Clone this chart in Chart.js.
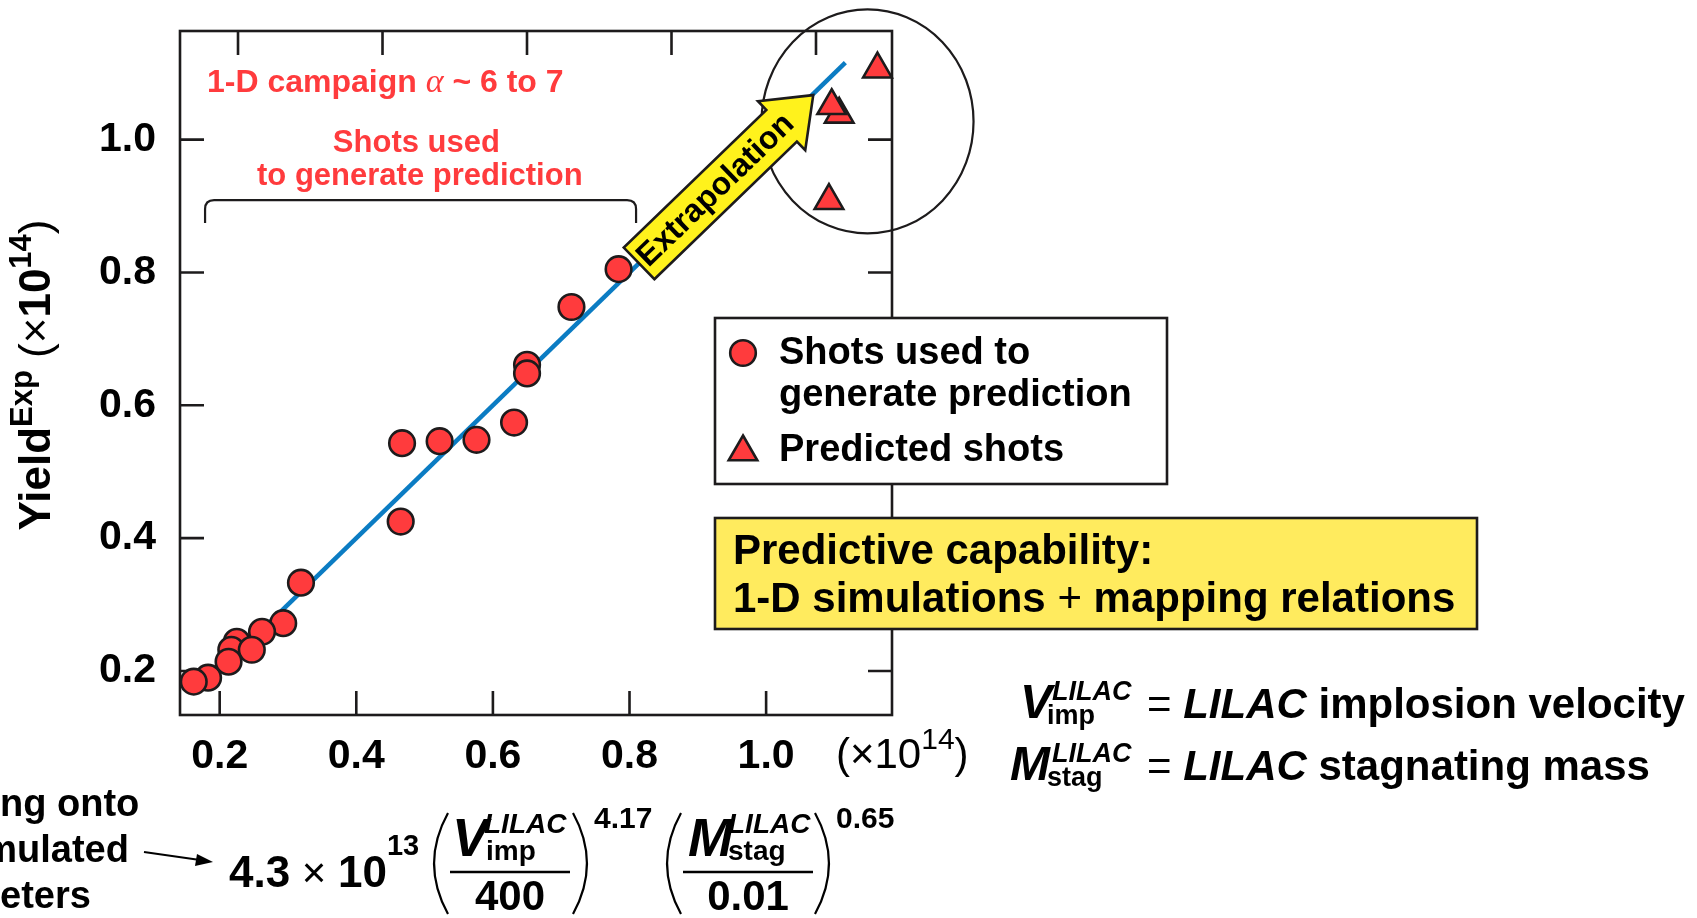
<!DOCTYPE html>
<html>
<head>
<meta charset="utf-8">
<title>1-D campaign yield prediction</title>
<script src="https://cdn.jsdelivr.net/npm/chart.js@4.4.1/dist/chart.umd.min.js"></script>
<style>
  html, body { margin: 0; padding: 0; background: #ffffff; }
  #c { display: block; }
</style>
</head>
<body>
<canvas id="c" width="1697" height="918"></canvas>
<script>
// ---------------------------------------------------------------
// Data (all yields in units of 1e14)
// ---------------------------------------------------------------
const xTickValues = [0.2, 0.4, 0.6, 0.8, 1.0];
const xTopTickValues = [0.2, 0.4, 0.6, 0.8, 1.0];
const yTickValues = [0.2, 0.4, 0.6, 0.8, 1.0];

// Shots used to generate the prediction: mapped 1-D yield vs. experimental yield
const usedMapped   = [0.293, 0.262, 0.225, 0.217, 0.183, 0.213, 0.247, 0.162, 0.319, 0.465, 0.467, 0.522, 0.576, 0.631, 0.650, 0.650, 0.715, 0.784];
const usedMeasured = [0.272, 0.259, 0.244, 0.232, 0.190, 0.214, 0.232, 0.184, 0.333, 0.425, 0.543, 0.546, 0.548, 0.574, 0.661, 0.648, 0.748, 0.805];

// Predicted shots
const predMapped   = [1.163, 1.107, 1.096, 1.092];
const predMeasured = [1.106, 1.038, 1.051, 0.908];

// Prediction line: YieldExp = mapped yield
const fitMapped   = [0.17, 1.116];
const fitMeasured = [0.17, 1.116];

const usedLabel = 'Shots used to generate prediction';
const predLabel = 'Predicted shots';

// ---------------------------------------------------------------
// Styling
// ---------------------------------------------------------------
const FONT = "'Liberation Sans', Arial, Helvetica, sans-serif";
const SERIF = "'Liberation Serif', 'DejaVu Serif', serif";
const INK = '#1d1b1c';
const RED = '#ff3b3d';
const BLUE = '#0b7cc3';
const ARROW_YELLOW = '#fff21c';
const BOX_YELLOW = '#ffeb5e';

const pts = (xs, ys) => xs.map((x, i) => ({ x, y: ys[i] }));
const fixTicks = (values) => (scale) => { scale.ticks = values.map(v => ({ value: v })); };

function f(weight, size, style, family) {
  return (style ? style + ' ' : '') + weight + ' ' + size + 'px ' + (family || FONT);
}

// draws a run of text pieces left to right: {t, font, dy}
function run(ctx, x, y, pieces) {
  let cx = x;
  for (const p of pieces) {
    ctx.font = p.font;
    if (p.dx) cx += p.dx;
    ctx.fillText(p.t, cx, y + (p.dy || 0));
    cx += ctx.measureText(p.t).width;
  }
  return cx;
}
function runWidth(ctx, pieces) {
  let w = 0;
  for (const p of pieces) { ctx.font = p.font; w += (p.dx || 0) + ctx.measureText(p.t).width; }
  return w;
}

function bigParen(ctx, x0, x1, yTop, yBot, open) {
  const mid = (yTop + yBot) / 2;
  ctx.beginPath();
  if (open) {
    ctx.moveTo(x1, yTop);
    ctx.quadraticCurveTo(x0 - (x1 - x0) * 0.55, mid, x1, yBot);
  } else {
    ctx.moveTo(x0, yTop);
    ctx.quadraticCurveTo(x1 + (x1 - x0) * 0.55, mid, x0, yBot);
  }
  ctx.stroke();
}

// ---------------------------------------------------------------
// Plot frame with inward ticks on all four sides
// ---------------------------------------------------------------
const framePlugin = {
  id: 'frame',
  beforeDatasetsDraw(chart) {
    const { ctx, chartArea: a, scales } = chart;
    const TL = 24;
    ctx.save();
    ctx.strokeStyle = INK;
    ctx.lineWidth = 2.6;
    ctx.beginPath();
    scales.x.ticks.forEach(t => {
      const p = scales.x.getPixelForValue(t.value);
      ctx.moveTo(p, a.bottom); ctx.lineTo(p, a.bottom - TL);
    });
    scales.x2.ticks.forEach(t => {
      const p = scales.x2.getPixelForValue(t.value);
      ctx.moveTo(p, a.top); ctx.lineTo(p, a.top + TL);
    });
    scales.y.ticks.forEach(t => {
      const p = scales.y.getPixelForValue(t.value);
      ctx.moveTo(a.left, p); ctx.lineTo(a.left + TL, p);
      ctx.moveTo(a.right, p); ctx.lineTo(a.right - TL, p);
    });
    ctx.stroke();
    ctx.strokeRect(a.left, a.top, a.right - a.left, a.bottom - a.top);
    ctx.restore();
  }
};

// ---------------------------------------------------------------
// Annotations inside and around the plot
// ---------------------------------------------------------------
const annotatePlugin = {
  id: 'annotate',
  afterDatasetsDraw(chart) {
    const { ctx, scales } = chart;
    const X = v => scales.x.getPixelForValue(v);
    const Y = v => scales.y.getPixelForValue(v);
    ctx.save();

    // circle around the predicted shots
    ctx.strokeStyle = INK;
    ctx.lineWidth = 2.2;
    ctx.beginPath();
    ctx.ellipse(X(1.1485), Y(1.0273), 106, 112, 0, 0, Math.PI * 2);
    ctx.stroke();

    // extrapolation arrow along the prediction line
    const tx = X(0.814), ty = Y(0.8136);
    const hx = X(1.069), hy = Y(1.067);
    const L = Math.hypot(hx - tx, hy - ty);
    const ux = (hx - tx) / L, uy = (hy - ty) / L;
    const nx = -uy, ny = ux;
    const hw = 22, HW = 34, headLen = 44;
    const kx = tx + ux * (L - headLen), ky = ty + uy * (L - headLen);
    ctx.beginPath();
    ctx.moveTo(tx + nx * hw, ty + ny * hw);
    ctx.lineTo(kx + nx * hw, ky + ny * hw);
    ctx.lineTo(kx + nx * HW, ky + ny * HW);
    ctx.lineTo(hx, hy);
    ctx.lineTo(kx - nx * HW, ky - ny * HW);
    ctx.lineTo(kx - nx * hw, ky - ny * hw);
    ctx.lineTo(tx - nx * hw, ty - ny * hw);
    ctx.closePath();
    ctx.fillStyle = ARROW_YELLOW;
    ctx.fill();
    ctx.lineWidth = 2.6;
    ctx.lineJoin = 'miter';
    ctx.stroke();
    ctx.save();
    ctx.translate(tx + ux * 106, ty + uy * 106);
    ctx.rotate(Math.atan2(uy, ux));
    ctx.fillStyle = '#000';
    ctx.font = f('bold', 32);
    ctx.textAlign = 'center';
    ctx.textBaseline = 'middle';
    ctx.fillText('Extrapolation', 0, 1);
    ctx.restore();

    // bracket over the shots used for the fit
    const bl = X(0.1786), br = X(0.8096), bt = Y(0.909), bb = Y(0.8744), r = 9;
    ctx.beginPath();
    ctx.moveTo(bl, bb);
    ctx.lineTo(bl, bt + r);
    ctx.quadraticCurveTo(bl, bt, bl + r, bt);
    ctx.lineTo(br - r, bt);
    ctx.quadraticCurveTo(br, bt, br, bt + r);
    ctx.lineTo(br, bb);
    ctx.lineWidth = 2.2;
    ctx.strokeStyle = INK;
    ctx.stroke();

    // red labels
    ctx.fillStyle = RED;
    ctx.textBaseline = 'alphabetic';
    ctx.textAlign = 'left';
    run(ctx, X(0.1814), Y(1.0721), [
      { t: '1-D campaign ', font: f('bold', 32) },
      { t: '\u03b1', font: f('normal', 34, 'italic', SERIF) },
      { t: ' ~ 6 to 7', font: f('bold', 32) }
    ]);
    ctx.textAlign = 'center';
    ctx.font = f('bold', 31);
    ctx.fillText('Shots used', X(0.488), Y(0.9818));
    ctx.fillText('to generate prediction', X(0.493), Y(0.9316));

    // legend
    const lx = 715, ly = 318, lw = 452, lh = 166;
    ctx.fillStyle = '#fff';
    ctx.fillRect(lx, ly, lw, lh);
    ctx.strokeStyle = INK;
    ctx.lineWidth = 2.6;
    ctx.strokeRect(lx, ly, lw, lh);
    const sets = chart.data.datasets;
    const usedDs = sets.find(d => d.label === usedLabel);
    const predDs = sets.find(d => d.label === predLabel);
    const drawMarker = (ds, x, y) => {
      ctx.fillStyle = ds.backgroundColor;
      ctx.strokeStyle = ds.borderColor;
      ctx.lineWidth = ds.borderWidth;
      Chart.helpers.drawPoint(ctx, { pointStyle: ds.pointStyle, radius: ds.pointRadius, borderWidth: ds.borderWidth, rotation: 0 }, x, y);
    };
    drawMarker(usedDs, 743, 353);
    drawMarker(predDs, 743, 452);
    ctx.fillStyle = '#000';
    ctx.textAlign = 'left';
    ctx.font = f('bold', 38);
    ctx.fillText('Shots used to', 779, 364);
    ctx.fillText('generate prediction', 779, 406);
    ctx.fillText(predDs.label, 779, 461);

    // summary box
    ctx.fillStyle = BOX_YELLOW;
    ctx.fillRect(715, 518, 762, 111);
    ctx.strokeStyle = INK;
    ctx.strokeRect(715, 518, 762, 111);
    ctx.fillStyle = '#000';
    ctx.font = f('bold', 42);
    ctx.fillText('Predictive capability:', 733, 564);
    run(ctx, 733, 612, [
      { t: '1-D simulations ', font: f('bold', 42) },
      { t: '+', font: f('normal', 42) },
      { t: ' mapping relations', font: f('bold', 42) }
    ]);
    ctx.restore();
  },

  afterDraw(chart) {
    const { ctx } = chart;
    ctx.save();
    ctx.fillStyle = '#000';
    ctx.textBaseline = 'alphabetic';
    ctx.textAlign = 'left';

    // y-axis title, rotated
    const yTitle = [
      { t: 'Yield', font: f('bold', 44) },
      { t: 'Exp', font: f('bold', 31), dy: -18 },
      { t: ' (', font: f('normal', 44) },
      { t: '\u00d7', font: f('normal', 44) },
      { t: '10', font: f('bold', 44) },
      { t: '14', font: f('bold', 31), dy: -19 },
      { t: ')', font: f('normal', 44) }
    ];
    const tw = runWidth(ctx, yTitle);
    ctx.save();
    ctx.translate(50, 375 + tw / 2);
    ctx.rotate(-Math.PI / 2);
    run(ctx, 0, 0, yTitle);
    ctx.restore();

    // x-axis unit
    run(ctx, 836, 768, [
      { t: '(\u00d710', font: f('normal', 42) },
      { t: '14', font: f('normal', 30), dy: -19 },
      { t: ')', font: f('normal', 42) }
    ]);

    // mapping description running in from the left edge;
    // each word is placed so that the given tail starts at x
    ctx.font = f('bold', 38);
    const edgeWords = [
      { word: 'Mapping onto', tail: 'ng onto', x: 0, y: 816 },
      { word: 'simulated', tail: 'ulated', x: 17, y: 862 },
      { word: 'parameters', tail: 'eters', x: 0, y: 908 }
    ];
    edgeWords.forEach(w => {
      const head = ctx.measureText(w.word).width - ctx.measureText(w.tail).width;
      ctx.fillText(w.word, w.x - head, w.y);
    });

    // pointer arrow to the formula
    ctx.strokeStyle = '#000';
    ctx.lineWidth = 2.2;
    ctx.beginPath();
    ctx.moveTo(144, 852); ctx.lineTo(200, 860);
    ctx.stroke();
    ctx.beginPath();
    ctx.moveTo(213, 862); ctx.lineTo(197, 854); ctx.lineTo(195, 866); ctx.closePath();
    ctx.fill();

    // mapping formula
    run(ctx, 229, 887, [
      { t: '4.3', font: f('bold', 44) },
      { t: ' \u00d7 ', font: f('normal', 42) },
      { t: '10', font: f('bold', 44) },
      { t: '13', font: f('bold', 29), dy: -32 }
    ]);
    ctx.strokeStyle = '#000';
    ctx.lineWidth = 2.2;
    bigParen(ctx, 430, 448, 813, 914, true);
    bigParen(ctx, 573, 591, 813, 914, false);
    bigParen(ctx, 663, 681, 813, 914, true);
    bigParen(ctx, 815, 833, 813, 914, false);
    ctx.lineWidth = 2.6;
    ctx.beginPath();
    ctx.moveTo(450, 872); ctx.lineTo(570, 872);
    ctx.moveTo(683, 872); ctx.lineTo(813, 872);
    ctx.stroke();
    ctx.font = f('bold', 54, 'italic');
    ctx.fillText('V', 452, 856);
    ctx.fillText('M', 688, 856);
    ctx.font = f('bold', 28, 'italic');
    ctx.fillText('LILAC', 484, 833);
    ctx.fillText('LILAC', 728, 833);
    ctx.font = f('bold', 28);
    ctx.fillText('imp', 486, 860);
    ctx.fillText('stag', 728, 860);
    ctx.textAlign = 'center';
    ctx.font = f('bold', 42);
    ctx.fillText('400', 510, 910);
    ctx.fillText('0.01', 748, 910);
    ctx.textAlign = 'left';
    ctx.font = f('bold', 30);
    ctx.fillText('4.17', 594, 828);
    ctx.fillText('0.65', 836, 828);

    // symbol definitions
    const defs = [
      { sym: 'V', sub: 'imp', base: 718, symX: 1020, text: 'implosion velocity' },
      { sym: 'M', sub: 'stag', base: 780, symX: 1010, text: 'stagnating mass' }
    ];
    defs.forEach(d => {
      ctx.font = f('bold', 48, 'italic');
      ctx.fillText(d.sym, d.symX, d.base);
      ctx.font = f('bold', 27, 'italic');
      ctx.fillText('LILAC', 1052, d.base - 18);
      ctx.font = f('bold', 27);
      ctx.fillText(d.sub, 1047, d.base + 6);
      run(ctx, 1147, d.base, [
        { t: '=', font: f('normal', 42) },
        { t: ' LILAC', font: f('bold', 42, 'italic') },
        { t: ' ' + d.text, font: f('bold', 42) }
      ]);
    });
    ctx.restore();
  }
};

// ---------------------------------------------------------------
// Chart
// ---------------------------------------------------------------
const tickFont = { family: FONT, weight: 'bold', size: 41 };

new Chart(document.getElementById('c'), {
  type: 'scatter',
  data: {
    datasets: [
      {
        label: 'Prediction',
        type: 'line',
        data: pts(fitMapped, fitMeasured),
        borderColor: BLUE,
        borderWidth: 4.5,
        pointRadius: 0,
        fill: false,
        order: 3,
        clip: false
      },
      {
        label: usedLabel,
        data: pts(usedMapped, usedMeasured),
        pointStyle: 'circle',
        pointRadius: 12.8,
        borderWidth: 2.6,
        backgroundColor: RED,
        borderColor: INK,
        order: 2,
        clip: false
      },
      {
        label: predLabel,
        data: pts(predMapped, predMeasured),
        pointStyle: 'triangle',
        pointRadius: 16.5,
        borderWidth: 2.6,
        backgroundColor: RED,
        borderColor: INK,
        order: 1,
        clip: false
      }
    ]
  },
  options: {
    responsive: false,
    animation: false,
    devicePixelRatio: 1,
    layout: { padding: { left: 0, right: 805, top: 31, bottom: 0 } },
    plugins: { legend: { display: false }, tooltip: { enabled: false } },
    scales: {
      x: {
        type: 'linear',
        position: 'bottom',
        min: 0.1419,
        max: 1.1843,
        afterBuildTicks: fixTicks(xTickValues),
        afterFit: s => { s.height = 203; s.paddingLeft = 0; s.paddingRight = 0; },
        grid: { display: false, drawTicks: false },
        border: { display: false },
        ticks: { font: tickFont, color: '#000', padding: 17, maxRotation: 0, callback: v => v.toFixed(1) }
      },
      x2: {
        type: 'linear',
        position: 'top',
        min: 0.1197,
        max: 1.1052,
        afterBuildTicks: fixTicks(xTopTickValues),
        afterFit: s => { s.height = 0; s.paddingLeft = 0; s.paddingRight = 0; },
        grid: { display: false, drawTicks: false },
        border: { display: false },
        ticks: { display: false }
      },
      y: {
        type: 'linear',
        position: 'left',
        min: 0.1338,
        max: 1.1635,
        afterBuildTicks: fixTicks(yTickValues),
        afterFit: s => { s.width = 180; s.paddingTop = 0; s.paddingBottom = 0; },
        grid: { display: false, drawTicks: false },
        border: { display: false },
        ticks: { font: tickFont, color: '#000', padding: 24, callback: v => v.toFixed(1) }
      }
    }
  },
  plugins: [framePlugin, annotatePlugin]
});
</script>
</body>
</html>
